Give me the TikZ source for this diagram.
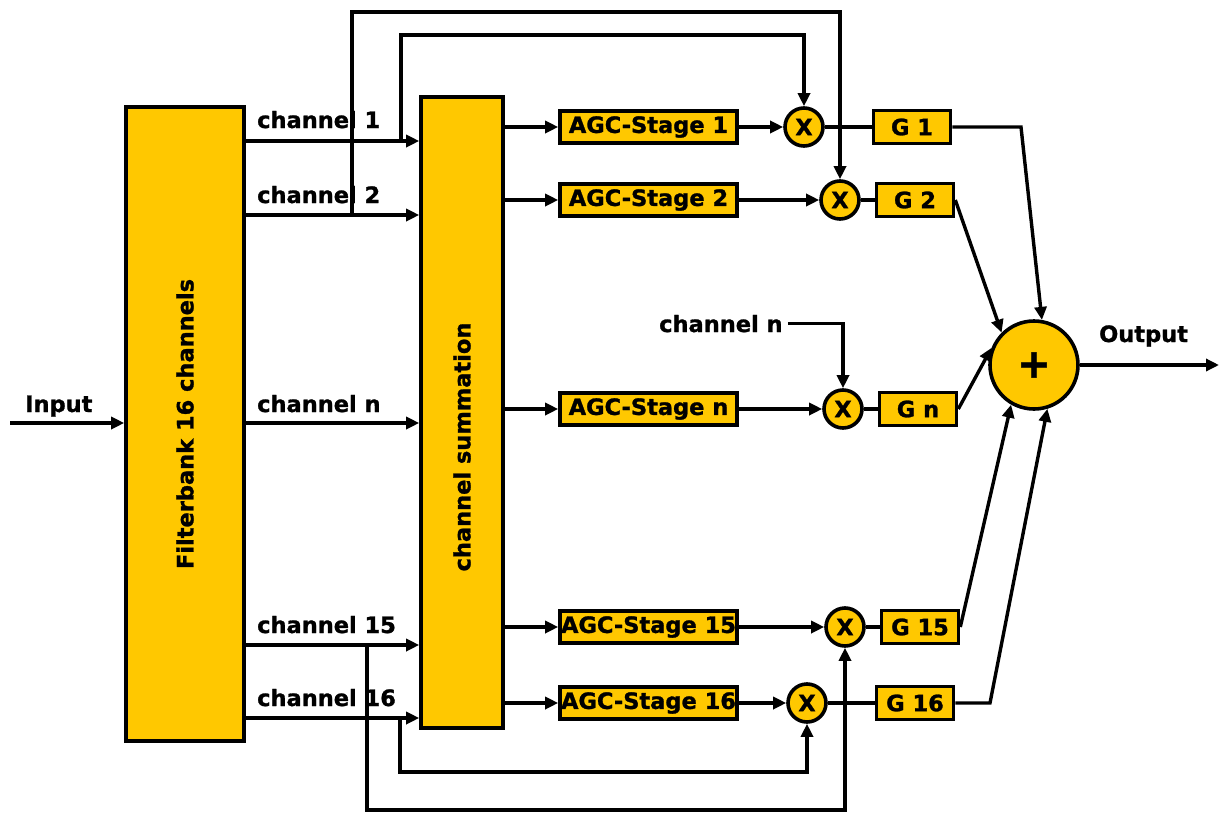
\documentclass[tikz,border=0pt]{standalone}
\usepackage{fontspec}
\setmainfont{DejaVu Sans}[BoldFeatures={FakeBold=1.2}]
\usetikzlibrary{arrows.meta}
\definecolor{agc}{RGB}{255,200,0}
\begin{document}
\begin{tikzpicture}[x=1pt,y=-1pt,
  every node/.style={font=\bfseries\fontsize{22.5}{25}\selectfont, inner sep=0pt},
  blk/.style={draw, line width=3.6pt, fill=agc},
  agcbox/.style={blk, minimum width=177pt, minimum height=32pt},
  gbox/.style={blk, minimum width=77pt, minimum height=33pt},
  mult/.style={blk, circle, minimum size=38pt},
  lbl/.style={anchor=base west},
  wire/.style={line width=3.4pt},
  arr/.style={wire, -{Triangle[length=13pt,width=12pt]}}]
\useasboundingbox (0,0) rectangle (1219,814);

% main blocks
\node[blk, minimum width=118pt, minimum height=634pt] (fb) at (185,424) {};
\node[rotate=90] (fbl) at (185,424) {Filterbank 16 channels};
\node[blk, minimum width=82pt, minimum height=631pt] (cs) at (462,412.5) {};
\node[rotate=90] (csl) at (462,447) {channel summation};

% input
\coordinate (in) at (10,423);
\draw[arr] (in) -- (in -| fb.west);
\node[lbl] (inl) at (25,412) {Input};

% channel rows
\coordinate (r1) at (0,141);
\coordinate (r2) at (0,215);
\coordinate (rn) at (0,423);
\coordinate (r15) at (0,645);
\coordinate (r16) at (0,718);
\foreach \r in {r1,r2,rn,r15,r16}{
  \draw[arr] (fb.east |- \r) -- (cs.west |- \r);
}
\node[lbl] (c1) at (257,128) {channel 1};
\node[lbl] (c2) at (257,203) {channel 2};
\node[lbl] (cn) at (257,412) {channel n};
\node[lbl] (c15) at (257,633) {channel 15};
\node[lbl] (c16) at (257,706) {channel 16};

% AGC stages
\node[agcbox] (a1) at (648.5,127) {AGC-Stage 1};
\node[agcbox] (a2) at (648.5,200) {AGC-Stage 2};
\node[agcbox] (an) at (648.5,409) {AGC-Stage n};
\node[agcbox] (a15) at (648.5,627) {AGC-Stage 15};
\node[agcbox] (a16) at (648.5,703) {AGC-Stage 16};
\foreach \a in {a1,a2,an,a15,a16}{
  \draw[arr] (cs.east |- \a) -- (\a.west);
}

% multipliers
\node[mult] (x1) at (804,127) {X};
\node[mult] (x2) at (840,200) {X};
\node[mult] (xn) at (843,409) {X};
\node[mult] (x15) at (845,627) {X};
\node[mult] (x16) at (807,703) {X};
\draw[arr] (a1.east) -- (x1.west);
\draw[arr] (a2.east) -- (x2.west);
\draw[arr] (an.east) -- (xn.west);
\draw[arr] (a15.east) -- (x15.west);
\draw[arr] (a16.east) -- (x16.west);

% gains
\node[gbox] (g1) at (912,127) {G 1};
\node[gbox] (g2) at (915,200) {G 2};
\node[gbox] (gn) at (918,409) {G n};
\node[gbox] (g15) at (920,627) {G 15};
\node[gbox] (g16) at (915,703) {G 16};
\draw[wire] (x1.east) -- (g1.west);
\draw[wire] (x2.east) -- (g2.west);
\draw[wire] (xn.east) -- (gn.west);
\draw[wire] (x15.east) -- (g15.west);
\draw[wire] (x16.east) -- (g16.west);

% feedback wires
\coordinate (t1) at (401,141);
\coordinate (top1) at (0,35);
\draw[arr] (t1) -- (t1 |- top1) -| (x1.north);
\coordinate (t2) at (352,215);
\coordinate (top2) at (0,12);
\draw[arr] (t2) -- (t2 |- top2) -| (x2.north);
\coordinate (b15) at (367,645);
\coordinate (bot15) at (0,810);
\draw[arr] (b15) -- (b15 |- bot15) -| (x15.south);
\coordinate (b16) at (400,718);
\coordinate (bot16) at (0,772);
\draw[arr] (b16) -- (b16 |- bot16) -| (x16.south);

% channel n feed
\node[lbl] (cnl) at (659,332) {channel n};
\draw[arr] ([xshift=5pt]cnl.east) -| (xn.north);

% summation
\node[blk, circle, minimum size=88pt, font=\bfseries\fontsize{40}{42}\selectfont] (sum) at (1034,365) {+};
\coordinate (k1) at (1021,127);
\coordinate (k16) at (990,703);
\draw[arr] (g1.east) -- (k1) -- (sum.80);
\draw[arr] (g2.east) -- (sum.135);
\draw[arr] (gn.east) -- (sum.158);
\draw[arr] (g15.east) -- (sum.240);
\draw[arr] (g16.east) -- (k16) -- (sum.287);

% output
\coordinate (out) at (1219,365);
\draw[arr] (sum.east) -- (out);
\node[lbl] (outl) at (1099,342) {Output};
\end{tikzpicture}
\end{document}
